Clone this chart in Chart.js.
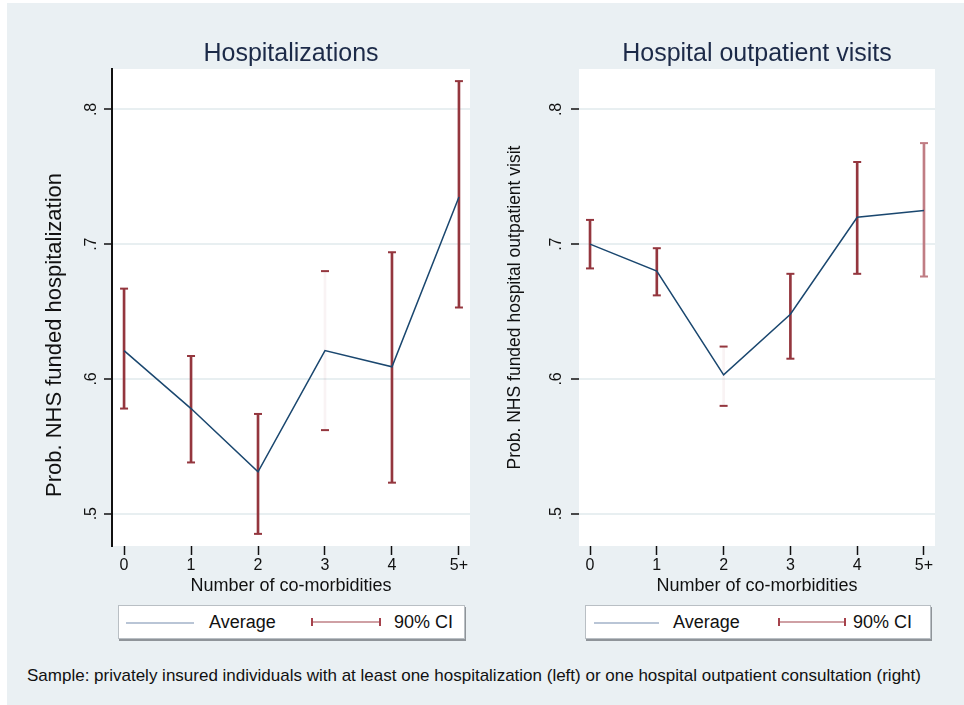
<!DOCTYPE html>
<html>
<head>
<meta charset="utf-8">
<script src="https://cdn.jsdelivr.net/npm/chart.js@4.4.0/dist/chart.umd.min.js"></script>
<style>
  body { margin: 0; background: #fff; font-family: "Liberation Sans", Arial, sans-serif; }
  #page { position: relative; width: 964px; height: 705px; overflow: hidden; }
  #bg { position: absolute; left: 7px; top: 3px; width: 957px; height: 702px; background: #eaf0f3; }
  canvas { position: absolute; top: 0; }
  .title { position: absolute; top: 36px; width: 400px; text-align: center; font-size: 25px; color: #1c2a48; line-height: 32px; }
  .legend { position: absolute; top: 605px; height: 32px; background: #fff; border: 1px solid #b9bfc4; box-shadow: 1px 2px 0 #8f9499; }
  .legend span { position: absolute; top: 5px; font-size: 18px; color: #111; line-height: 22px; }
  .lg-line { position: absolute; top: 16px; height: 0; border-top: 2px solid #b9c5d6; }
  .lg-ci { position: absolute; top: 12px; height: 8px; border-left: 2px solid #a6424c; border-right: 2px solid #a6424c; }
  .lg-ci div { position: absolute; left: 0; right: 0; top: 3px; border-top: 2px solid #cfa0a4; }
  #note { position: absolute; left: 27px; top: 666px; font-size: 17px; color: #111; white-space: nowrap; }
</style>
</head>
<body>
<div id="page">
  <div id="bg"></div>
  <canvas id="hosp" width="482" height="600" style="left:0"></canvas>
  <canvas id="outp" width="482" height="600" style="left:482px"></canvas>
  <div class="title" style="left:91px">Hospitalizations</div>
  <div class="title" style="left:557px">Hospital outpatient visits</div>

  <div class="legend" style="left:118px; width:345px">
    <div class="lg-line" style="left:7px; width:68px"></div>
    <span style="left:90px">Average</span>
    <div class="lg-ci" style="left:192px; width:66px"><div></div></div>
    <span style="left:275px">90% CI</span>
  </div>
  <div class="legend" style="left:585px; width:344px">
    <div class="lg-line" style="left:8px; width:65px"></div>
    <span style="left:87px">Average</span>
    <div class="lg-ci" style="left:192px; width:64px"><div></div></div>
    <span style="left:267px">90% CI</span>
  </div>

  <div id="note">Sample: privately insured individuals with at least one hospitalization (left) or one hospital outpatient consultation (right)</div>
</div>

<script>
const comorb = [0, 1, 2, 3, 4, 5];
const xTickLabels = ['0', '1', '2', '3', '4', '5+'];
const yTickValues = [0.5, 0.6, 0.7, 0.8];
const yTickLabels = ['.5', '.6', '.7', '.8'];

// Hospitalizations
const hospAvg = [0.621, 0.578, 0.531, 0.621, 0.609, 0.735];
const hospLo  = [0.578, 0.538, 0.485, 0.562, 0.523, 0.653];
const hospHi  = [0.667, 0.617, 0.574, 0.680, 0.694, 0.821];

// Hospital outpatient visits
const outAvg = [0.700, 0.680, 0.603, 0.648, 0.720, 0.725];
const outLo  = [0.682, 0.662, 0.580, 0.615, 0.678, 0.676];
const outHi  = [0.718, 0.697, 0.624, 0.678, 0.761, 0.775];

const NAVY = '#1a476f';
const MAROON = '#94363e';
const FAINT = 'rgba(148,54,62,0.06)';
const LIGHT = '#c07d84';

Chart.defaults.font.family = '"Liberation Sans", Arial, sans-serif';
Chart.defaults.color = '#111';

const plotBg = {
    id: 'plotBg',
    beforeDraw(chart) {
        const a = chart.chartArea, ctx = chart.ctx;
        ctx.save();
        ctx.fillStyle = '#fff';
        ctx.fillRect(a.left, a.top, a.right - a.left, a.bottom - a.top);
        ctx.restore();
    }
};

function makeChart(id, avg, lo, hi, cfg) {
    const ctx = document.getElementById(id).getContext('2d');
    return new Chart(ctx, {
        type: 'line',
        data: {
            datasets: [
                { type: 'line', data: comorb.map((x, i) => ({ x, y: avg[i] })), borderColor: NAVY, borderWidth: 1.5, pointRadius: 0, tension: 0 },
                { type: 'scatter', data: comorb.flatMap((x, i) => [{ x, y: lo[i] }, { x, y: hi[i] }]),
                  pointStyle: 'line', pointRadius: 4, pointBorderWidth: 2, pointBorderColor: cfg.capColors },
                { type: 'bar', data: comorb.map((x, i) => ({ x, y: [lo[i], hi[i]] })), backgroundColor: cfg.barColors, barThickness: 2, borderWidth: 0 }
            ]
        },
        options: {
            responsive: false,
            devicePixelRatio: 1,
            animation: false,
            events: [],
            layout: { padding: { top: 69, right: cfg.padRight, left: 0, bottom: 0 } },
            plugins: { legend: { display: false }, tooltip: { enabled: false } },
            scales: {
                x: {
                    type: 'linear', min: cfg.xMin, max: cfg.xMax, offset: false,
                    afterBuildTicks: s => { s.ticks = comorb.map(v => ({ value: v })); },
                    afterFit: s => { s.height = 54; },
                    grid: { drawOnChartArea: false, offset: false, tickLength: 9, tickWidth: 1.5, tickColor: '#111' },
                    border: { display: false },
                    ticks: { font: { size: 16 }, padding: 1, maxRotation: 0, autoSkip: false, callback: v => xTickLabels[comorb.indexOf(v)] },
                    title: { display: true, text: 'Number of co-morbidities', font: { size: 18 }, padding: { top: 0, bottom: 3 } }
                },
                y: {
                    min: 0.476, max: 0.83,
                    afterBuildTicks: s => { s.ticks = yTickValues.map(v => ({ value: v })); },
                    afterFit: s => { s.width = cfg.yWidth; },
                    grid: { color: '#e8eff1', lineWidth: 2, tickLength: 8, tickWidth: 1.5, tickColor: '#111' },
                    border: { display: cfg.yBorder, color: '#111', width: 2 },
                    ticks: { font: { size: 16 }, minRotation: 90, maxRotation: 90, crossAlign: 'center', padding: cfg.yTickPad,
                             callback: v => yTickLabels[yTickValues.indexOf(v)] },
                    title: { display: true, text: cfg.yTitle, font: { size: cfg.yTitleSize }, padding: { top: cfg.yTitlePad, bottom: 0 } }
                }
            }
        },
        plugins: [plotBg]
    });
}

makeChart('hosp', hospAvg, hospLo, hospHi, {
    xMin: -0.18, xMax: 5.165, padRight: 12, yWidth: 112, yBorder: true, yTickPad: 6,
    // trailing spaces push the rotated title down, as in the original layout
    yTitle: 'Prob. NHS funded hospitalization' + '\u00a0'.repeat(9), yTitleSize: 22, yTitlePad: 42,
    barColors: [MAROON, MAROON, MAROON, FAINT, MAROON, MAROON],
    capColors: MAROON
});

makeChart('outp', outAvg, outLo, outHi, {
    xMin: -0.165, xMax: 5.165, padRight: 29, yWidth: 97, yBorder: false, yTickPad: 8,
    yTitle: 'Prob. NHS funded hospital outpatient visit', yTitleSize: 17.5, yTitlePad: 23,
    barColors: [MAROON, MAROON, FAINT, MAROON, MAROON, LIGHT],
    capColors: [MAROON, MAROON, MAROON, MAROON, MAROON, MAROON, MAROON, MAROON, MAROON, MAROON, LIGHT, LIGHT]
});
</script>
</body>
</html>
